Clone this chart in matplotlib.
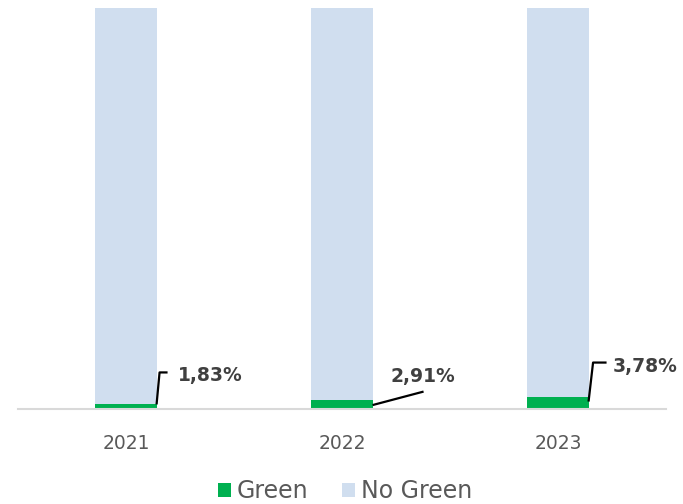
import matplotlib
matplotlib.use("Agg")
import matplotlib.pyplot as plt
import numpy as np

# Share of green vs non-green, per year (percent)
years = ["2021", "2022", "2023"]
green = [1.83, 2.91, 3.78]
no_green = [100 - g for g in green]
labels = ["1,83%", "2,91%", "3,78%"]

GREEN = "#00B050"
LIGHT = "#D0DEEF"
TEXT = "#595959"

fig = plt.figure(figsize=(6.83, 5.04), dpi=100)
ax = fig.add_axes([18 / 683, 95 / 504, 648 / 683, 401 / 504])

x = np.arange(len(years))
w = 0.283
ax.bar(x, green, width=w, color=GREEN, label="Green")
ax.bar(x, no_green, width=w, bottom=green, color=LIGHT, label="No Green")

ax.set_xlim(-0.5, len(years) - 0.5)
ax.set_ylim(0.7, 100)
ax.set_yticks([])
ax.set_xticks(x)
ax.set_xticklabels(years, fontsize=13.5, color=TEXT)
ax.tick_params(axis="x", length=0, pad=18)
for side in ["top", "right", "left"]:
    ax.spines[side].set_visible(False)
ax.spines["bottom"].set_color("#D9D9D9")
ax.spines["bottom"].set_linewidth(1.5)

# leader lines (pixel offsets from the bar's green top-right corner) and label spots
leaders = [
    [(0, 0), (3, 32), (11, 32)],
    [(0, -5), (51, 8.5)],
    [(0, -5), (4.5, 34), (18, 34)],
]
text_pos = [(21, 29, "left"), (50, 24, "center"), (24, 30, "left")]

fig.canvas.draw()
to_axes = ax.transAxes.inverted()
for i, g in enumerate(green):
    ax_px, ay_px = ax.transData.transform((x[i] + w / 2, g))
    pts = np.array([(ax_px + dx, ay_px + dy) for dx, dy in leaders[i]])
    pts_ax = to_axes.transform(pts)
    ax.plot(pts_ax[:, 0], pts_ax[:, 1], color="black", lw=1.6,
            transform=ax.transAxes, clip_on=False, solid_capstyle="butt")
    tx, ty, ha = text_pos[i]
    tpos = to_axes.transform((ax_px + tx, ay_px + ty))
    ax.text(tpos[0], tpos[1], labels[i], transform=ax.transAxes, ha=ha,
            va="center", fontsize=13.5, fontweight="bold", color="#404040")

fig.legend(loc="center", bbox_to_anchor=(345 / 683, 1 - 491 / 504), ncol=2,
           frameon=False, fontsize=17, handlelength=0.55, handleheight=0.55,
           handletextpad=0.25, columnspacing=1.4, labelcolor=TEXT)

fig.savefig("out.png", dpi=100)
